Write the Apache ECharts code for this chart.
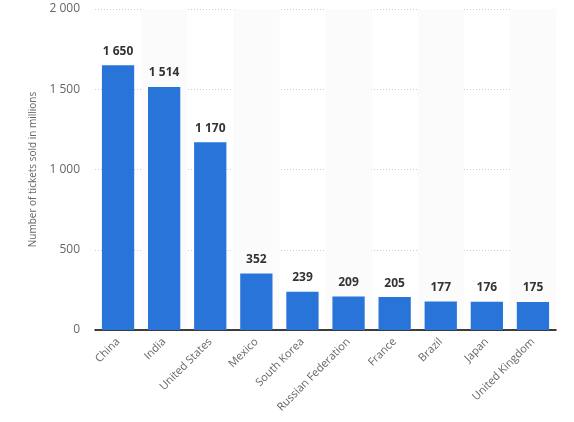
<head> </head>

<body style="margin: 0">
  <div id="main" style="width: 574px; height: 422px"></div>
  <script src="https://cdn.jsdelivr.net/npm/echarts@6/dist/echarts.min.js"></script>
  <script>
    // countries and tickets sold (millions)
    var countries = [
      "China",
      "India",
      "United States",
      "Mexico",
      "South Korea",
      "Russian Federation",
      "France",
      "Brazil",
      "Japan",
      "United Kingdom",
    ];
    var tickets = [1650, 1514, 1170, 352, 239, 209, 205, 177, 176, 175];
    var yTicks = [0, 500, 1000, 1500, 2000];

    // 千位用空格分隔
    function fmt(v) {
      return String(v).replace(/\B(?=(\d{3})+(?!\d))/g, " ");
    }

    var myChart = echarts.init(document.getElementById("main"));
    var option = {
      animation: false,
      grid: { left: 95, right: 18, top: 9, bottom: 92 },
      xAxis: {
        type: "category",
        data: countries,
        axisLine: { lineStyle: { color: "#000", width: 1.5 } },
        axisTick: { show: false },
        axisLabel: {
          rotate: 45,
          color: "#666",
          fontSize: 11,
          fontFamily: "Open Sans",
          interval: 0,
          margin: 10,
        },
        splitArea: {
          show: true,
          areaStyle: { color: ["rgba(255,255,255,0)", "#fbfbfb"] },
        },
      },
      yAxis: {
        type: "value",
        min: yTicks[0],
        max: yTicks[yTicks.length - 1],
        interval: 500,
        name: "Number of tickets sold in millions",
        nameLocation: "middle",
        nameGap: 55,
        nameTextStyle: { color: "#666", fontSize: 10, fontFamily: "Open Sans" },
        axisLine: { show: false },
        axisTick: { show: false },
        axisLabel: {
          color: "#666",
          fontSize: 12,
          fontFamily: "Open Sans",
          margin: 15,
          formatter: fmt,
        },
        splitLine: { lineStyle: { color: "#ccc", type: [1, 2] } },
      },
      series: [
        {
          type: "bar",
          data: tickets,
          barWidth: "70%",
          itemStyle: { color: "#2874d9" },
          label: {
            show: true,
            position: "top",
            distance: 8,
            color: "#333",
            fontSize: 12,
            fontWeight: "bold",
            fontFamily: "Open Sans",
            formatter: function (p) {
              return fmt(p.value);
            },
          },
        },
      ],
    };
    myChart.setOption(option);
  </script>
</body>
